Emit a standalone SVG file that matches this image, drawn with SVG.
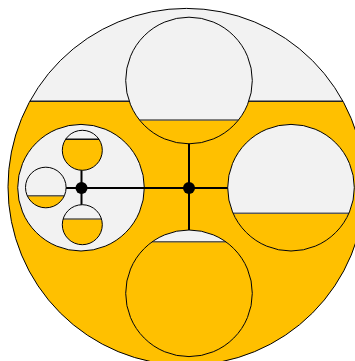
<svg xmlns="http://www.w3.org/2000/svg" width="355" height="361" viewBox="0 0 355 361">
<style>
.tank{fill:#f2f2f2;stroke:none}
.water{fill:#ffc000;stroke:none}
.level{stroke:#5a5a5a;stroke-width:1.5;fill:none}
.rim{fill:none;stroke:#000;stroke-width:1}
.edge{stroke:#000;stroke-width:2;fill:none}
.hub{fill:#000}
</style>
<rect width="355" height="361" fill="#ffffff"/>
<g id="outer">
<circle class="tank" cx="186.4" cy="186.8" r="178.4"/>
<path class="water" d="M29.8,101.3 L343,101.3 A178.4,178.4 0 1 1 29.8,101.3 Z"/>
<line class="level" x1="29.8" y1="101.3" x2="343" y2="101.3" style="stroke:#222"/>
<circle class="rim" cx="186.4" cy="186.8" r="178.4"/>
</g>
<g id="top">
<circle class="tank" cx="189" cy="80.5" r="63.3"/>
<path class="water" d="M139.5,120 L238.5,120 A63.3,63.3 0 0 1 139.5,120 Z"/>
<line class="level" x1="139.5" y1="120" x2="238.5" y2="120"/>
<circle class="rim" cx="189" cy="80.5" r="63.3"/>
</g>
<g id="right">
<circle class="tank" cx="291" cy="187.7" r="63.3"/>
<path class="water" d="M233.1,213.3 L348.9,213.3 A63.3,63.3 0 0 1 233.1,213.3 Z"/>
<line class="level" x1="233.1" y1="213.3" x2="348.9" y2="213.3"/>
<circle class="rim" cx="291" cy="187.7" r="63.3"/>
</g>
<g id="bottom">
<circle class="tank" cx="189" cy="293.3" r="63.3"/>
<path class="water" d="M152.3,241.7 L225.7,241.7 A63.3,63.3 0 1 1 152.3,241.7 Z"/>
<line class="level" x1="152.3" y1="241.7" x2="225.7" y2="241.7"/>
<circle class="rim" cx="189" cy="293.3" r="63.3"/>
</g>
<g id="left">
<circle class="tank" cx="81" cy="187.7" r="63.3"/>
<circle class="rim" cx="81" cy="187.7" r="63.3"/>
</g>
<g id="left-top">
<circle class="tank" cx="82.3" cy="150.3" r="20"/>
<path class="water" d="M65.6,139.3 L99,139.3 A20,20 0 1 1 65.6,139.3 Z"/>
<line class="level" x1="65.6" y1="139.3" x2="99" y2="139.3" style="stroke:#111"/>
<circle class="rim" cx="82.3" cy="150.3" r="20"/>
</g>
<g id="left-left">
<circle class="tank" cx="45.8" cy="187.5" r="20.3"/>
<path class="water" d="M27.2,195.7 L64.4,195.7 A20.3,20.3 0 0 1 27.2,195.7 Z"/>
<line class="level" x1="27.2" y1="195.7" x2="64.4" y2="195.7"/>
<circle class="rim" cx="45.8" cy="187.5" r="20.3"/>
</g>
<g id="left-bottom">
<circle class="tank" cx="82.3" cy="224.7" r="20"/>
<path class="water" d="M63.1,219 L101.5,219 A20,20 0 1 1 63.1,219 Z"/>
<line class="level" x1="63.1" y1="219" x2="101.5" y2="219"/>
<circle class="rim" cx="82.3" cy="224.7" r="20"/>
</g>
<g id="connectors">
<line class="edge" x1="189" y1="188" x2="189" y2="143.8"/>
<line class="edge" x1="189" y1="188" x2="227.7" y2="188"/>
<line class="edge" x1="189" y1="188" x2="189" y2="230"/>
<line class="edge" x1="189" y1="188" x2="81.5" y2="188"/>
<line class="edge" x1="81.5" y1="188" x2="81.5" y2="170.3"/>
<line class="edge" x1="81.5" y1="188" x2="66.1" y2="188"/>
<line class="edge" x1="81.5" y1="188" x2="81.5" y2="204.7"/>
</g>
<g id="hub-main"><circle class="hub" cx="189" cy="188" r="6"/></g>
<g id="hub-left"><circle class="hub" cx="81.5" cy="188" r="6"/></g>
</svg>
